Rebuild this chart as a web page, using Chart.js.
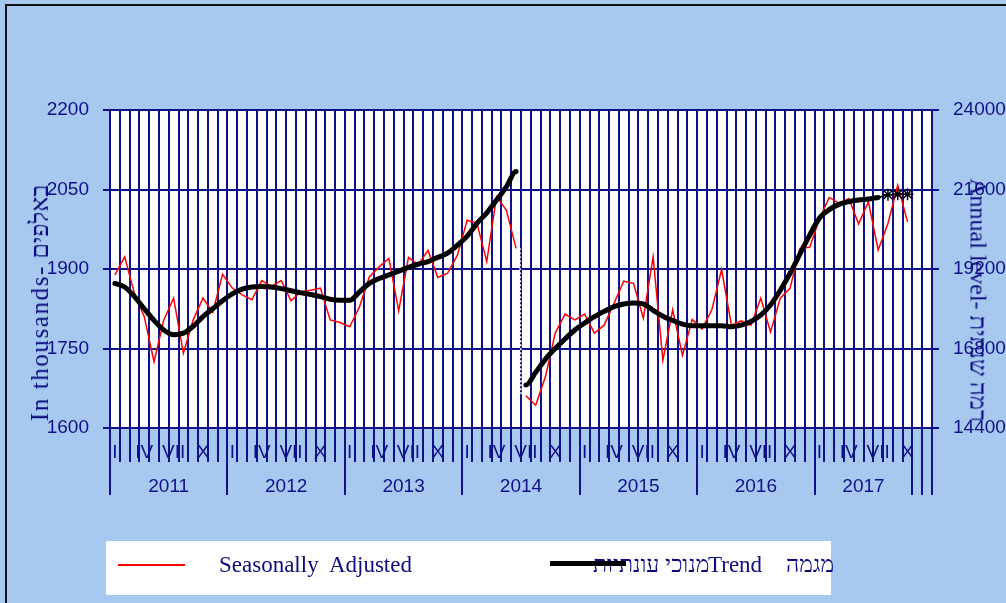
<!DOCTYPE html>
<html>
<head>
<meta charset="utf-8">
<script src="https://cdn.jsdelivr.net/npm/chart.js@4/dist/chart.umd.min.js"></script>
<style>
  body { margin: 0; width: 1006px; height: 603px; overflow: hidden; position: relative; background: #a7c9ef; }
  #frame { position: absolute; left: 5px; top: 4px; width: 1010px; height: 610px; border-left: 2px solid #111; border-top: 2px solid #111; }
  #chart { position: absolute; left: 0; top: 0; }
  .title { position: absolute; font-family: "Liberation Serif", serif; font-size: 25px; color: #0c0c80; white-space: nowrap; }
  #leftTitle .en { letter-spacing: 1.6px; }
  #leftTitle { left: 40px; top: 303px; transform: translate(-50%, -50%) rotate(-90deg); }
  #rightTitle { left: 978px; top: 300px; font-size: 24px; transform: translate(-50%, -50%) rotate(90deg); }
  #legend { position: absolute; left: 106px; top: 541px; width: 725px; height: 54px; background: #fff; }
  .lg { position: absolute; font-family: "Liberation Serif", serif; font-size: 23px; color: #0c0c80; white-space: nowrap; line-height: 26px; }
</style>
</head>
<body>
<div id="frame"></div>
<canvas id="chart" width="1006" height="603"></canvas>
<div class="title" id="leftTitle"><span class="en">In thousands-</span> באלפים</div>
<div class="title" id="rightTitle"><span class="en">Annual level-</span> רמה שנתית</div>
<div id="legend">
  <div style="position:absolute;left:12px;top:23px;width:67px;height:1.5px;background:#f00;"></div>
  <div class="lg" style="left:113px;top:11px;">Seasonally&nbsp; Adjusted</div>
  <div class="lg" style="left:487px;top:11px;" dir="rtl">מנוכי עונתיות</div>
  <div style="position:absolute;left:444px;top:20px;width:76px;height:5px;background:#000;"></div>
  <div class="lg" style="left:602px;top:11px;">Trend</div>
  <div class="lg" style="left:680px;top:11px;" dir="rtl">מגמה</div>
</div>
<script>
const NAVY = '#10108a';

// tick labels
const years = ['2011', '2012', '2013', '2014', '2015', '2016', '2017'];
const monthMarks = ['I', '', '', 'IV', '', '', 'VII', '', '', 'X', '', ''];
const yearBounds = [0, 12, 24, 36, 48, 60, 72, 82, 83, 84];
const yearCenters = [6, 18, 30, 42, 54, 66, 77];

// seasonally adjusted, Jan 2011 - Oct 2017 (thousands)
const seasonal = [
  1889, 1923, 1854, 1810, 1725, 1804, 1845, 1741, 1804, 1845, 1818, 1890,
  1864, 1851, 1842, 1878, 1867, 1878, 1840, 1857, 1860, 1864, 1804, 1799,
  1791, 1829, 1885, 1904, 1920, 1821, 1922, 1908, 1935, 1884, 1892, 1926,
  1992, 1986, 1914, 2036, 2011, 1939, 1661, 1643, 1697, 1779, 1815, 1804,
  1815, 1779, 1794, 1835, 1877, 1873, 1807, 1923, 1728, 1823, 1737, 1805,
  1787, 1823, 1899, 1794, 1802, 1794, 1845, 1781, 1845, 1864, 1939, 1941,
  1995, 2035, 2024, 2033, 1985, 2027, 1936, 1986, 2058, 1989
];

// trend, Jan 2011 - Jul 2017
const trend = [
  1873, 1866, 1848, 1825, 1803, 1785, 1776, 1779, 1792, 1810, 1825, 1840,
  1853, 1862, 1866, 1867, 1866, 1863, 1859, 1855, 1852, 1848, 1843, 1841,
  1841, 1857, 1873, 1882, 1889, 1896, 1903, 1909, 1914, 1922, 1930, 1945,
  1962, 1986, 2006, 2030, 2055, 2084, 1681, 1705, 1730, 1750, 1768, 1785,
  1798, 1810, 1820, 1829, 1834, 1836, 1834, 1822, 1811, 1803, 1796, 1793,
  1793, 1793, 1793, 1791, 1794, 1801, 1813, 1832, 1860, 1892, 1928, 1964,
  1996, 2012, 2022, 2027, 2030, 2032, 2035
];

// preliminary trend (asterisks)
const trendPrelimStart = 78;
const trendPrelim = [2035, 2040, 2041, 2041];

const breakAt = 42; // series break (new survey), Jul 2014

const labels = [];
years.forEach(() => monthMarks.forEach(m => labels.push(m)));

const prelimData = labels.map((_, i) => {
  const k = i - trendPrelimStart;
  return (k >= 0 && k < trendPrelim.length) ? trendPrelim[k] : null;
});

const cutSegment = ctx => ctx.p0DataIndex === breakAt - 1 ? 'rgba(0,0,0,0)' : undefined;

const plotBg = {
  id: 'plotBg',
  beforeDraw(chart) {
    const a = chart.chartArea, c = chart.ctx;
    c.save();
    c.fillStyle = '#fff';
    c.fillRect(a.left, a.top, a.right - a.left, a.bottom - a.top);
    c.restore();
  }
};

const breakLine = {
  id: 'breakLine',
  afterDatasetsDraw(chart) {
    const x = chart.scales.x, y = chart.scales.y, c = chart.ctx;
    const px = (x.getPixelForValue(breakAt - 1) + x.getPixelForValue(breakAt)) / 2;
    c.save();
    c.strokeStyle = '#fff';
    c.lineWidth = 1.5;
    c.setLineDash([2, 2]);
    c.beginPath();
    c.moveTo(px - 1, y.getPixelForValue(seasonal[breakAt - 1]));
    c.lineTo(px, y.getPixelForValue(seasonal[breakAt]));
    c.stroke();
    c.restore();
  }
};

const axisFont = { family: 'Liberation Sans', size: 19 };
const plain = v => String(v);

new Chart(document.getElementById('chart'), {
  type: 'line',
  data: {
    labels: labels,
    datasets: [
      {
        data: trend,
        borderColor: '#000',
        borderWidth: 5,
        pointRadius: 0,
        cubicInterpolationMode: 'monotone',
        borderCapStyle: 'round',
        segment: { borderColor: cutSegment }
      },
      {
        data: prelimData,
        borderColor: '#000',
        borderWidth: 1.5,
        pointStyle: 'star',
        pointRadius: ctx => ctx.dataIndex === trendPrelimStart ? 0 : 6,
        pointBorderWidth: 1.5,
        pointBorderColor: '#000'
      },
      {
        data: seasonal,
        borderColor: '#ff0000',
        borderWidth: 1.5,
        pointRadius: 0,
        tension: 0,
        segment: { borderColor: cutSegment }
      }
    ]
  },
  options: {
    responsive: false,
    animation: false,
    layout: { padding: { left: 0, right: 0, top: 110, bottom: 108 } },
    plugins: { legend: { display: false }, tooltip: { enabled: false } },
    scales: {
      x: {
        type: 'category',
        position: 'bottom',
        weight: 0,
        offset: true,
        grid: { offset: true, color: NAVY, lineWidth: 2, tickLength: 34 },
        border: { color: NAVY, width: 2 },
        ticks: { autoSkip: false, maxRotation: 0, padding: -21, color: NAVY, font: { family: 'Liberation Sans', size: 19 } },
        afterFit: s => { s.height = 34; }
      },
      xYear: {
        type: 'linear',
        position: 'bottom',
        weight: 1,
        min: 0,
        max: 84,
        afterBuildTicks: s => { s.ticks = yearBounds.concat(yearCenters).sort((a, b) => a - b).map(v => ({ value: v })); },
        grid: {
          drawOnChartArea: false,
          tickLength: 33,
          lineWidth: 2,
          color: ctx => (ctx.tick && yearBounds.includes(ctx.tick.value)) ? NAVY : 'rgba(0,0,0,0)'
        },
        border: { display: false },
        ticks: {
          autoSkip: false, maxRotation: 0, padding: -20, color: NAVY, font: axisFont,
          callback: v => { const k = yearCenters.indexOf(v); return k >= 0 ? years[k] : ''; }
        },
        afterFit: s => { s.height = 33; }
      },
      y: {
        position: 'left',
        min: 1600,
        max: 2200,
        ticks: { stepSize: 150, padding: 14, color: NAVY, font: axisFont, callback: plain },
        grid: { color: NAVY, lineWidth: 2, tickLength: 7 },
        border: { color: NAVY, width: 2 },
        afterFit: s => { s.width = 110; }
      },
      y2: {
        position: 'right',
        min: 14400,
        max: 24000,
        ticks: { stepSize: 2400, padding: 14, color: NAVY, font: axisFont, callback: plain },
        grid: { drawOnChartArea: false, color: NAVY, lineWidth: 2, tickLength: 7 },
        border: { color: NAVY, width: 2 },
        afterFit: s => { s.width = 74; }
      }
    }
  },
  plugins: [plotBg, breakLine]
});
</script>
</body>
</html>
